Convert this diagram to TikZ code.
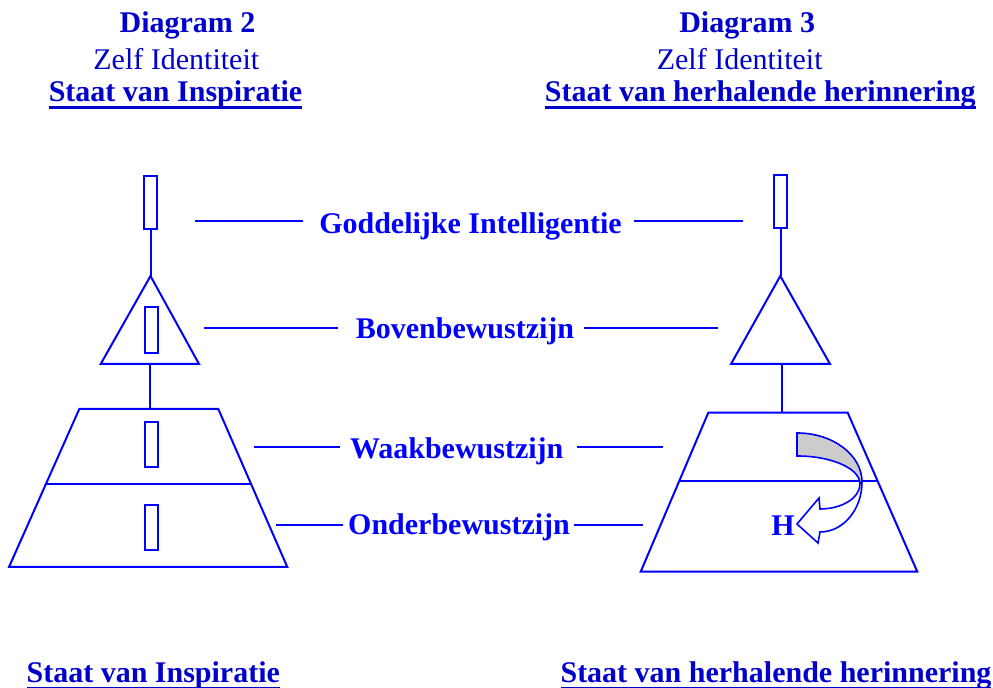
\documentclass[tikz,border=0pt]{standalone}
\usepackage{fontspec}
\setmainfont{Liberation Serif}
\usetikzlibrary{calc}

\definecolor{lijnblauw}{RGB}{0,0,255}
\definecolor{kopblauw}{RGB}{0,0,204}
\definecolor{pijlgrijs}{RGB}{204,204,204}

% own underline: thick rule just under the baseline
\newcommand{\onderstreep}[1]{\setbox0=\hbox{#1}\rlap{\rule[-3.6pt]{\wd0}{1.4pt}}\box0}

\begin{document}
\begin{tikzpicture}[x=0.5pt, y=-0.5pt, line width=1pt,
        lijn/.style={draw=lijnblauw},
        staaf/.style={draw=lijnblauw, rectangle, inner sep=0pt, minimum width=6.6pt},
        kop/.style={text=kopblauw, inner sep=0pt, anchor=base, font=\fontsize{15}{18}\selectfont\bfseries},
        ondertitel/.style={kop, font=\fontsize{15}{18}\selectfont},
        laag/.style={text=lijnblauw, inner sep=0pt, anchor=base, font=\fontsize{15}{18}\selectfont\bfseries}]
        \useasboundingbox (0,0) rectangle (993,688);

        % Headings
        \node[kop] (diag2) at (187.5,33) {Diagram 2};
        \node[ondertitel] (zelf2) at (176.3,69.5) {Zelf Identiteit};
        \node[kop] (staat2) at (175.5,101.7) {\onderstreep{Staat van Inspiratie}};
        \node[kop] (diag3) at (747.2,33) {Diagram 3};
        \node[ondertitel] (zelf3) at (739.7,69.5) {Zelf Identiteit};
        \node[kop] (staat3) at (760.3,101.7) {\onderstreep{Staat van herhalende herinnering}};

        % Footers
        \node[kop] (inspiratie) at (153.3,682.7) {\onderstreep{Staat van Inspiratie}};
        \node[kop] (herinnering) at (776,682.7) {\onderstreep{Staat van herhalende herinnering}};

        % Left diagram
        \node[staaf, minimum height=26.5pt] (godL) at (150.5,202.5) {};
        \coordinate (topL) at (150.5,276);
        \coordinate (blL) at (100.7,364);
        \coordinate (brL) at (199,364);
        \coordinate (basisL) at (150,364);
        \draw[lijn] (topL) -- (brL) -- (blL) -- cycle;
        \node[staaf, minimum height=23pt] (bovenL) at (151.5,330) {};

        \coordinate (tlL) at (79.3,409);
        \coordinate (trL) at (218.3,409);
        \coordinate (olL) at (9,567);
        \coordinate (orL) at (287.3,567);
        \draw[lijn] (tlL) -- (trL) -- (orL) -- (olL) -- cycle;
        \draw[lijn] ($(tlL)!0.4747!(olL)$) -- ($(trL)!0.4747!(orL)$);
        \node[staaf, minimum height=22.5pt] (waakL) at (151.2,445) {};
        \node[staaf, minimum height=22.5pt] (onderL) at (151.2,528) {};

        \draw[lijn] (godL.south) -- (topL);
        \draw[lijn] (basisL) -- (basisL |- tlL);

        % Right diagram
        \node[staaf, minimum height=26.5pt] (godR) at (780.8,201.7) {};
        \coordinate (topR) at (780.3,276);
        \coordinate (blR) at (731,364);
        \coordinate (brR) at (830,364);
        \coordinate (basisR) at (781.7,364);
        \draw[lijn] (topR) -- (brR) -- (blR) -- cycle;

        \coordinate (tlR) at (708.3,412.7);
        \coordinate (trR) at (847.7,412.7);
        \coordinate (olR) at (640.7,571.7);
        \coordinate (orR) at (917.3,571.7);
        \draw[lijn] (tlR) -- (trR) -- (orR) -- (olR) -- cycle;
        \draw[lijn] ($(tlR)!0.4277!(olR)$) -- ($(trR)!0.4277!(orR)$);

        \draw[lijn] (godR.south) -- (godR.south |- topR);
        \draw[lijn] (basisR) -- (basisR |- tlR);

        % Level labels
        \node[laag] (god) at (470.5,233.3) {Goddelijke Intelligentie};
        \node[laag] (boven) at (465,338.3) {Bovenbewustzijn};
        \node[laag] (waak) at (456.7,459) {Waakbewustzijn};
        \node[laag] (onder) at (459,535) {Onderbewustzijn};

        \coordinate (godA) at (194.7,221);
        \coordinate (godB) at (303,221);
        \coordinate (godC) at (634,221);
        \coordinate (godD) at (743.3,221);
        \coordinate (bovenA) at (204,327.7);
        \coordinate (bovenB) at (338.3,327.7);
        \coordinate (bovenC) at (584,327.7);
        \coordinate (bovenD) at (717.7,327.7);
        \coordinate (waakA) at (254,447.3);
        \coordinate (waakB) at (340,447.3);
        \coordinate (waakC) at (576.7,447.3);
        \coordinate (waakD) at (662.7,447.3);
        \coordinate (onderA) at (276,525);
        \coordinate (onderB) at (343.3,525);
        \coordinate (onderC) at (574,525);
        \coordinate (onderD) at (643.3,525);

        \draw[lijn] (godA) -- (godB);
        \draw[lijn] (godC) -- (godD);
        \draw[lijn] (bovenA) -- (bovenB);
        \draw[lijn] (bovenC) -- (bovenD);
        \draw[lijn] (waakA) -- (waakB);
        \draw[lijn] (waakC) -- (waakD);
        \draw[lijn] (onderA) -- (onderB);
        \draw[lijn] (onderC) -- (onderD);

        % Curved arrow back to H
        \filldraw[draw=lijnblauw, fill=pijlgrijs, line width=0.8pt] (797,433) .. controls (832.9,433) and (862,454.9) .. (862,482)
            -- (860,484) .. controls (860,468.5) and (831.8,456) .. (797,456) -- cycle;
        \filldraw[draw=lijnblauw, fill=white, line width=0.8pt] (862,482) .. controls (862,509.6) and (843.2,532) .. (820,532)
            -- (818,543) -- (797,524) -- (819,498) -- (820,509)
            .. controls (842.1,509) and (860,497.8) .. (860,484) -- cycle;
        \node[laag] (h) at (783,536) {H};
\end{tikzpicture}
\end{document}
